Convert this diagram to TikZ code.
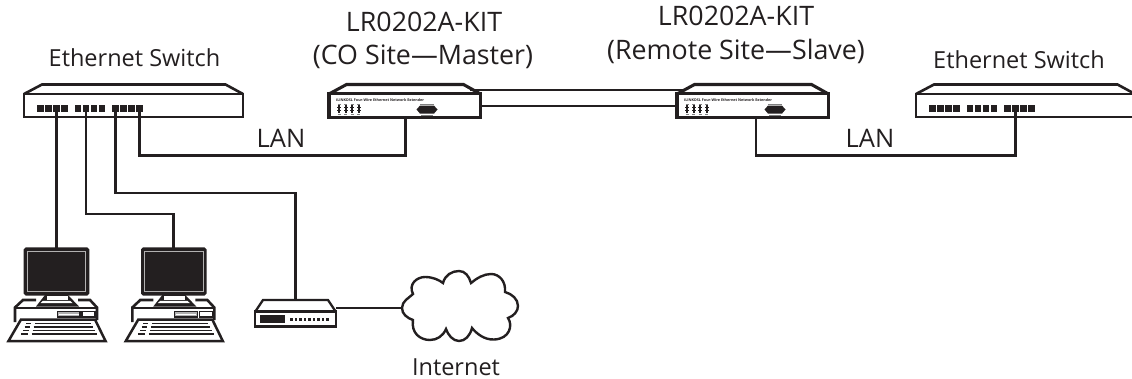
\documentclass[tikz,border=0pt]{standalone}
\usepackage{fontspec}
\setmainfont{Open Sans}
\usetikzlibrary{calc}
\definecolor{ink}{HTML}{231F20}
\tikzset{
  x=1pt,y=-1pt,
  wire/.style={draw=ink,line width=2.7pt,line cap=butt,line join=miter},
  thinwire/.style={draw=ink,line width=2.3pt},
  case/.style={draw=ink,line width=2.6pt,rectangle,inner sep=0pt,outer sep=0pt},
  kitcase/.style={draw=ink,line width=3.1pt,rectangle,inner sep=0pt,outer sep=0pt},
  portbox/.style={fill=ink,rectangle,inner sep=0pt,outer sep=0pt,minimum width=6.6pt,minimum height=6.8pt},
  label/.style={anchor=base,inner sep=0pt,text=ink,font=\fontsize{23.5}{28}\selectfont},
  title/.style={anchor=base,inner sep=0pt,text=ink,font=\fontsize{26.8}{32}\selectfont},
  lanlabel/.style={anchor=base,inner sep=0pt,text=ink,font=\fontsize{25.5}{30}\selectfont},
  tiny/.style={anchor=west,inner sep=0pt,text=ink,font=\fontsize{3.7}{4}\selectfont\bfseries},
  kbline/.style={draw=ink,line width=1.5pt},
}
\newcommand{\switchdev}[2]{%
  \node[case,minimum width=219pt,minimum height=23pt] (#1) at (#2+109.5,105.5) {};
  \draw[case] (#2,94) -- (#2+18,84.5) -- (#2+201.5,84.5) -- (#2+219,94);
  \foreach \g/\o in {0/12.7,1/50,2/87.7}{
    \foreach \k in {0,1,2,3}{
      \pgfmathtruncatemacro{\pn}{\g*4+\k+1}
      \node[portbox] (#1-p\pn) at (#2+\o+4+\k*8,108.3) {};
    }
  }
}
\newcommand{\kitdev}[2]{%
  \node[kitcase,minimum width=151.5pt,minimum height=23.5pt] (#1) at (#2+75.75,105.5) {};
  \draw[kitcase] (#2,94) -- (#2+17.5,84.5) -- (#2+134.5,84.5) -- (#2+151.5,94);
  \draw[draw=ink,line width=1pt] (#2,94) -- (#2+151.5,94);
  \node[tiny] at (#2+7,99.7) {iLINKDSL Four-Wire Ethernet Network Extender};
  \foreach \d in {10,16.7,23,29.7}{
    \fill[ink] (#2+\d-1.1,105) rectangle (#2+\d+1.1,112.8);
    \fill[ink] (#2+\d-2,107.3) rectangle (#2+\d+2,108.3);
    \fill[ink] (#2+\d-2,110.3) rectangle (#2+\d+2,111.3);
    \draw[gray,line width=.5pt] (#2+\d-1.5,103.8) -- (#2+\d+1.5,103.8) (#2+\d-1.5,114.4) -- (#2+\d+1.5,114.4);
  }
  \fill[ink] (#2+87.5,109.5) -- (#2+91,105.6) -- (#2+105,105.6) -- (#2+108.5,109.5) -- (#2+105,113.6) -- (#2+91,113.6) -- cycle;
  \draw[gray,line width=.7pt] (#2+91,104) -- (#2+105,104) (#2+92,115) -- (#2+104,115);
}
\newcommand{\pcdev}[2]{%
  \node[rectangle,draw=ink,fill=ink,line width=1.6pt,rounded corners=1.5pt,minimum width=64pt,minimum height=46.5pt,inner sep=0pt,outer sep=0pt] (#1) at (#2+32.5,271.5) {};
  \draw[white!65!ink,line width=.9pt] (#2+3.2,251.6) rectangle (#2+61.8,291.8);
  % stand
  \fill[ink] (#2+21,295) -- (#2+44,295) -- (#2+55,306.5) -- (#2+12,306.5) -- cycle;
  \fill[white] (#2+22.5,295.5) rectangle (#2+43.5,299.5);
  \fill[white] (#2+19,300.8) -- (#2+46,300.8) -- (#2+48.5,303) -- (#2+16.5,303) -- cycle;
  % case
  \draw[thinwire,line width=2.6pt,line join=miter] (#2+12,300) -- (#2-1,300) -- (#2-9,307.5) -- (#2-9,322);
  \draw[thinwire,line width=2.6pt] (#2+54,300) -- (#2+66,300) -- (#2+73,307.5) -- (#2+73,320);
  \draw[thinwire] (#2-9,308) -- (#2+73,308);
  \draw[draw=ink,line width=1.3pt,fill=white!65!ink] (#2+33.5,311.5) rectangle (#2+56,317);
  \fill[white] (#2+35,313.5) rectangle (#2+54.5,315);
  \draw[draw=ink,line width=1.3pt] (#2+58,311.5) rectangle (#2+71,317);
  % keyboard
  \draw[draw=ink,line width=2.5pt,fill=white,line join=miter] (#2-3,319.5) -- (#2+71,319.5) -- (#2+81.5,341) -- (#2-15.5,341) -- cycle;
  \foreach \yy/\al/\ar/\bl/\br in {323.5/2/7/11/67,327/0.5/6/9.5/69,330.5/-1/5/8.5/70.5,334/-3/4/7.5/72.5}{
    \draw[kbline] (#2+\al,\yy) -- (#2+\ar,\yy);
    \draw[kbline] (#2+\bl,\yy) -- (#2+\br,\yy);
  }
}
\begin{document}
\begin{tikzpicture}
\useasboundingbox (0,0) rectangle (1132,379);
% devices
\switchdev{swL}{24}
\switchdev{swR}{916}
\kitdev{kitL}{329}
\kitdev{kitR}{677}
\pcdev{pcA}{24}
\pcdev{pcB}{141.3}
% router
\node[rectangle,draw=ink,line width=2.2pt,minimum width=81pt,minimum height=15pt,inner sep=0pt,outer sep=0pt] (router) at (295.5,319) {};
\draw[thinwire] (255,312) -- (263,300) -- (328,300) -- (336,312);
\fill[ink] (259.5,315) rectangle (285,322.5);
\foreach \i in {0,...,8}{\fill[ink] (290+\i*4.55,318.3) rectangle ++(2.6,2.4);}
% cloud
\coordinate (cloudW) at (402,308);
\draw[draw=ink,line width=2.4pt,line join=miter] (cloudW)
  .. controls (402,301) and (409,298) .. (413,294)
  .. controls (408,284) and (417,277) .. (425,277)
  .. controls (433,277) and (439,280) .. (443,283)
  .. controls (445,275) and (452,271) .. (459,271)
  .. controls (465,271) and (469,276) .. (471,283)
  .. controls (477,278) and (484,274) .. (491,274)
  .. controls (499,274) and (506,281) .. (505,292)
  .. controls (512,294) and (518,299) .. (518,306)
  .. controls (518,311) and (514,316) .. (508,318)
  .. controls (513,325) and (510,339) .. (494,339.5)
  .. controls (484,340) and (476,333) .. (472,328)
  .. controls (470,336) and (465,341) .. (459,341)
  .. controls (453,341) and (448,335) .. (446,329)
  .. controls (443,336) and (437,340) .. (430,340)
  .. controls (420,340) and (411,333) .. (413,320)
  .. controls (407,318) and (402,314) .. (cloudW);
% routing coordinates
\coordinate (lanLmid) at (280,155.7);
\coordinate (lanRmid) at (880,155.7);
\coordinate (kitLtap) at (405.7,117);
\coordinate (kitRtap) at (756,117);
\coordinate (pcBbend) at (120,214);
\coordinate (routerBend) at (200,193);
\coordinate (routerTop) at (295.5,300);
\coordinate (routerE) at (336,308);
\coordinate (linkLa) at (470,90);
\coordinate (linkRa) at (683,90);
\coordinate (linkLb) at (481,106);
\coordinate (linkRb) at (677,106);
% connectors
\draw[wire] (swL-p3.center) -- (swL-p3 |- pcA.north);
\draw[wire] (swL-p6.center) |- (pcBbend) -| (pcB.north);
\draw[wire] (swL-p9.center) |- (routerBend) -| (routerTop);
\draw[wire] (swL-p12.center) |- (lanLmid) -| (kitLtap);
\draw[wire] (kitRtap) |- (lanRmid) -| (swR-p10.center);
\draw[wire] (linkLa) -- (linkRa);
\draw[wire] (linkLb) -- (linkRb);
\draw[thinwire] (routerE) -- (cloudW);
% labels
\node[label] (lblSwL) at (134.5,67) {Ethernet Switch};
\node[label] (lblSwR) at (1019,69) {Ethernet Switch};
\node[title] (lblKitLa) at (424,32) {LR0202A-KIT};
\node[title] (lblKitLb) at (423,65) {(CO Site—Master)};
\node[title] (lblKitRa) at (736,26) {LR0202A-KIT};
\node[title] (lblKitRb) at (736,60) {(Remote Site—Slave)};
\node[lanlabel] (lblLanL) at (281,148) {LAN};
\node[lanlabel] (lblLanR) at (870,148) {LAN};
\node[label] (lblNet) at (456,375) {Internet};
\end{tikzpicture}
\end{document}
